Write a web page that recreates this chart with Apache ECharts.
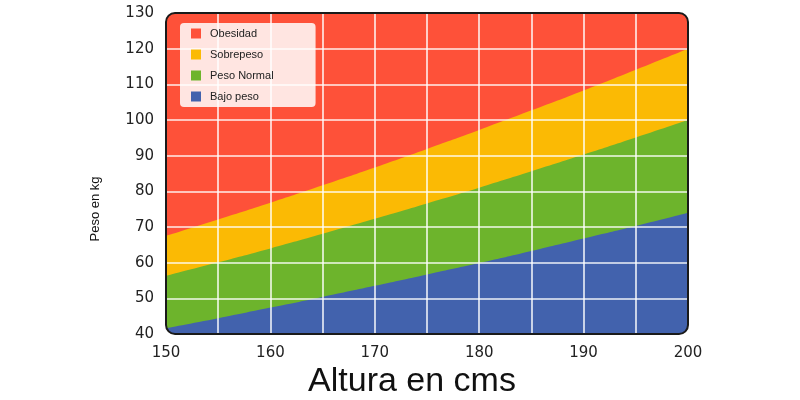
<!DOCTYPE html>
<html><head><meta charset="utf-8">
<script src="https://cdn.jsdelivr.net/npm/echarts@6/dist/echarts.min.js"></script>
<style>html,body{margin:0;padding:0;background:#fff}#c{width:800px;height:400px}</style>
</head><body><div id="c"></div>
<script>
const heights = [150,155,160,165,170,175,180,185,190,195,200];
const obesidadTop = [130,130,130,130,130,130,130,130,130,130,130];
const sobrepesoTop = [67.5,72.1,76.8,81.7,86.7,91.9,97.2,102.7,108.3,114.1,120];
const normalTop = [56.3,60.1,64.0,68.1,72.3,76.6,81.0,85.6,90.3,95.1,100];
const bajoTop = [41.6,44.4,47.4,50.4,53.5,56.7,59.9,63.3,66.8,70.3,74];
const names = ['Obesidad','Sobrepeso','Peso Normal','Bajo peso'];
const colors = ['#fe5139','#fbba04','#6db42c','#4262ad'];
const xTitle = 'Altura en cms';
const yTitle = 'Peso en kg';

const G = {left:166, top:13, right:112, bottom:66};
const W = 800, H = 400;
const x0 = G.left, y0 = G.top, x1 = W - G.right, y1 = H - G.bottom;
const r = 9;

function pairs(vals){ return heights.map((h,i)=>[h, vals[i]]); }
const seriesVals = [obesidadTop, sobrepesoTop, normalTop, bajoTop];

function cornerPoly(cx, cy, sx, sy){
  const pts = [[cx - sx*1, cy - sy*1], [cx + sx*r, cy - sy*1]];
  const ccx = cx + sx*r, ccy = cy + sy*r;
  for (let k = 0; k <= 12; k++){
    const a = (Math.PI/2) * k/12;
    pts.push([ccx - sx*r*Math.sin(a), ccy - sy*r*Math.cos(a)]);
  }
  pts.push([cx - sx*1, cy + sy*r]);
  return pts;
}

const chart = echarts.init(document.getElementById('c'));
chart.setOption({
  animation:false,
  grid:{left:G.left, top:G.top, right:G.right, bottom:G.bottom},
  legend:{
    data:names, orient:'vertical', left:180, top:23, z:10,
    backgroundColor:'rgba(255,255,255,0.85)', borderRadius:4,
    padding:[5,42,5,11], itemGap:10, icon:'rect', itemWidth:10, itemHeight:10,
    textStyle:{fontSize:11, color:'#222', fontFamily:'Liberation Sans, Arial, sans-serif', padding:[0,0,0,4]},
    selectedMode:false
  },
  xAxis:{
    type:'value', min:150, max:200, interval:5, z:5,
    axisLine:{show:false}, axisTick:{show:false},
    axisLabel:{fontSize:15, color:'#222', margin:12, fontFamily:'DejaVu Sans, sans-serif',
      formatter:v => (v % 10 === 0 ? String(v) : '')},
    splitLine:{show:true, lineStyle:{color:'rgba(255,255,255,0.9)', width:1.6}}
  },
  yAxis:{
    type:'value', min:40, max:130, interval:10, z:5,
    axisLine:{show:false}, axisTick:{show:false},
    axisLabel:{fontSize:15, color:'#222', margin:12, fontFamily:'DejaVu Sans, sans-serif'},
    splitLine:{show:true, lineStyle:{color:'rgba(255,255,255,0.9)', width:1.6}}
  },
  series: names.map((n,i)=>({
    name:n, type:'line', data:pairs(seriesVals[i]), smooth:true, symbol:'none',
    z:1+i, color:colors[i],
    lineStyle:{width:0},
    areaStyle:{color:colors[i], opacity:1, origin:'start'}
  })),
  graphic:[
    {type:'polygon', z:50, shape:{points:cornerPoly(x0,y0,1,1)}, style:{fill:'#fff'}},
    {type:'polygon', z:50, shape:{points:cornerPoly(x1,y0,-1,1)}, style:{fill:'#fff'}},
    {type:'polygon', z:50, shape:{points:cornerPoly(x0,y1,1,-1)}, style:{fill:'#fff'}},
    {type:'polygon', z:50, shape:{points:cornerPoly(x1,y1,-1,-1)}, style:{fill:'#fff'}},
    {type:'rect', z:51, shape:{x:x0, y:y0, width:x1-x0, height:y1-y0, r:r},
      style:{fill:null, stroke:'#1a1a1a', lineWidth:2}},
    {type:'text', z:52, x:412, y:382, style:{text:xTitle, fill:'#111',
      font:'34px "Liberation Sans", Arial, sans-serif', align:'center', verticalAlign:'middle'}},
    {type:'text', z:52, x:95, y:209, rotation:Math.PI/2, style:{text:yTitle, fill:'#111',
      font:'13px "Liberation Sans", Arial, sans-serif', align:'center', verticalAlign:'middle'}}
  ]
});
</script></body></html>
